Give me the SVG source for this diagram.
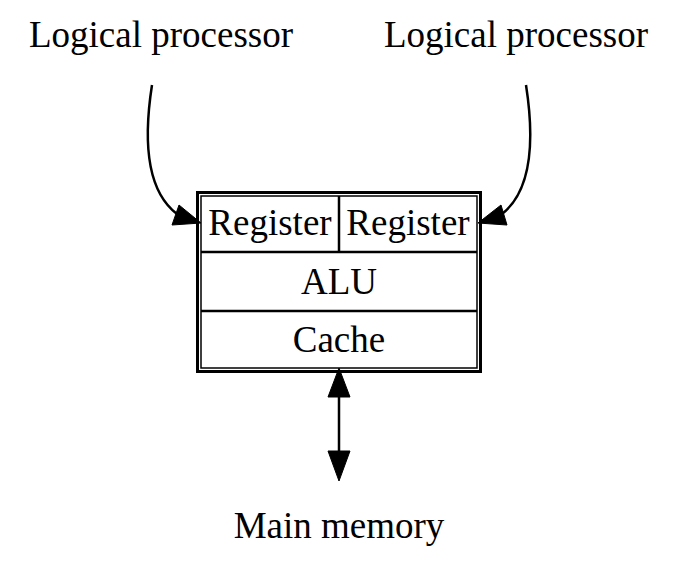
<svg xmlns="http://www.w3.org/2000/svg" width="689" height="569" viewBox="0 0 689 569">
<style>
text{font-family:"Liberation Serif","Times New Roman",serif;font-size:37px;fill:#000;text-anchor:middle}
.edge{fill:none;stroke:#000;stroke-width:2.5}
.head{fill:#000;stroke:#000;stroke-width:1}
.frame{fill:none;stroke:#000}
.sep{stroke:#000;stroke-width:2.5}
</style>
<rect width="689" height="569" fill="#fff"/>
<g id="connectors">
<path class="edge" d="M152,85 C145,130 143,188 177,214"/>
<polygon class="head" points="201,223 172,225 179,205"/>
<path class="edge" d="M526,85 C533,130 535,188 502,214"/>
<polygon class="head" points="478,223 507,225 501,205"/>
<line class="edge" x1="339" y1="396" x2="339" y2="452"/>
<polygon class="head" points="339,368 350,397 328,397"/>
<polygon class="head" points="339,481 350,451 328,451"/>
</g>
<g id="lp1"><text x="161" y="47" font-family="Liberation Serif, serif">Logical processor</text></g>
<g id="lp2"><text x="516" y="47" font-family="Liberation Serif, serif">Logical processor</text></g>
<g id="core">
<rect class="frame" x="197.5" y="192.5" width="283" height="179" stroke-width="3"/>
<rect class="frame" x="201" y="196" width="276" height="172" stroke-width="1.5"/>
<line class="sep" x1="339" y1="196" x2="339" y2="252"/>
<line class="sep" x1="201" y1="252" x2="477" y2="252"/>
<line class="sep" x1="201" y1="311" x2="477" y2="311"/>
<text x="270" y="235" font-family="Liberation Serif, serif">Register</text>
<text x="408" y="235" font-family="Liberation Serif, serif">Register</text>
<text x="339" y="294" font-family="Liberation Serif, serif">ALU</text>
<text x="339" y="352" font-family="Liberation Serif, serif">Cache</text>
</g>
<g id="mem"><text x="339" y="538" font-family="Liberation Serif, serif">Main memory</text></g>
</svg>
